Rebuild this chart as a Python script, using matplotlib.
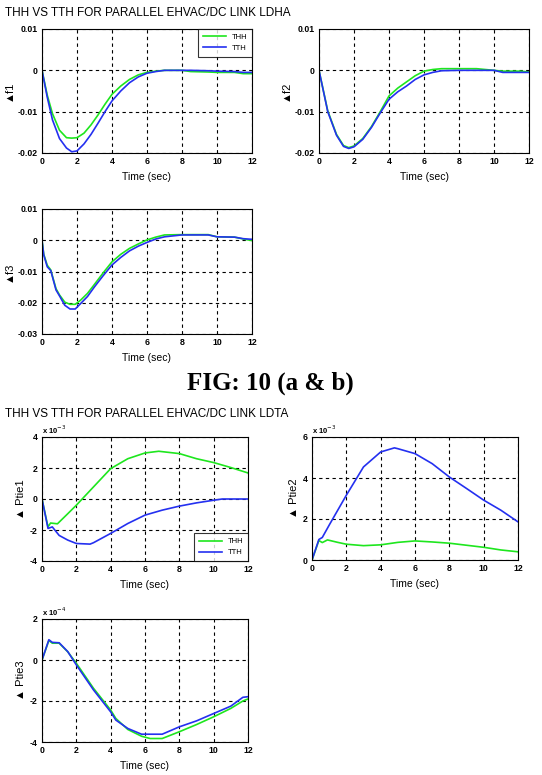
import numpy as np
import matplotlib
matplotlib.use("Agg")
import matplotlib.pyplot as plt

# Frequency deviations, THH vs TTH (LDHA case)
t_f1 = [0, 0.3, 0.6, 1.0, 1.4, 1.7, 2.0, 2.4, 2.8, 3.2, 3.6, 4.0, 4.5, 5.0, 5.5,
        6.0, 6.5, 7.0, 8.0, 8.5, 9.5, 10, 11, 11.5, 12]
thh_f1 = [0, -0.006, -0.0105, -0.0145, -0.0163, -0.0164, -0.0163, -0.0152, -0.0132,
          -0.0108, -0.0082, -0.0058, -0.0038, -0.0022, -0.0011, -0.0005, -0.0002, 0,
          0, -0.0003, -0.0004, -0.0005, -0.0005, -0.0008, -0.0008]
tth_f1 = [0, -0.0065, -0.012, -0.0165, -0.0188, -0.0197, -0.0195, -0.0178, -0.0155,
          -0.0128, -0.0100, -0.0074, -0.0050, -0.0030, -0.0016, -0.0007, -0.0003, 0,
          0, 0, -0.0001, -0.0002, -0.0003, -0.0005, -0.0005]

t_f2 = [0, 0.5, 1.0, 1.4, 1.7, 2.0, 2.5, 3.0, 3.5, 4.0, 4.5, 5.0, 5.5, 6.0, 6.5,
        7, 8, 9, 10, 10.5, 11.5, 12]
thh_f2 = [0, -0.0098, -0.0155, -0.0182, -0.0187, -0.0183, -0.0165, -0.0136, -0.0100,
          -0.0062, -0.0043, -0.0028, -0.0013, -0.0002, 0.0002, 0.0004, 0.0004, 0.0004,
          0, -0.0002, -0.0002, -0.0004]
tth_f2 = [0, -0.0100, -0.0157, -0.0184, -0.0189, -0.0185, -0.0167, -0.0138, -0.0103,
          -0.0070, -0.0052, -0.0038, -0.0022, -0.0011, -0.0005, -0.0001, 0, 0, 0,
          -0.0005, -0.0005, -0.0005]

t_f3 = [0, 0.1, 0.3, 0.5, 0.8, 1.0, 1.3, 1.6, 1.9, 2.2, 2.6, 3.0, 3.5, 4.0, 4.5,
        5.0, 5.5, 6.0, 6.5, 7.0, 8.0, 9.5, 10, 11, 11.5, 12]
thh_f3 = [0, -0.0045, -0.008, -0.0095, -0.0155, -0.0175, -0.0198, -0.0205, -0.0205,
          -0.0192, -0.0170, -0.0141, -0.0104, -0.0069, -0.0045, -0.0026, -0.0012,
          0.0001, 0.0010, 0.0017, 0.0018, 0.0018, 0.0011, 0.0010, 0.0004, -0.0001]
tth_f3 = [0, -0.0047, -0.0085, -0.0097, -0.0159, -0.0178, -0.0208, -0.022, -0.022,
          -0.0203, -0.0180, -0.0149, -0.0113, -0.0079, -0.0055, -0.0034, -0.0019,
          -0.0007, 0.0004, 0.0011, 0.0017, 0.0017, 0.0011, 0.0010, 0.0005, 0.0003]

# Tie-line power deviations (LDTA case), in units of the axis multiplier
t_p1 = [0, 0.35, 0.5, 0.9, 1.5, 2, 3, 4, 5, 6, 6.8, 8, 9, 10, 11, 12]
thh_p1 = [0, -1.8, -1.55, -1.6, -0.95, -0.4, 0.78, 1.96, 2.6, 2.97, 3.08, 2.93,
          2.6, 2.35, 2.03, 1.68]
t_p1b = [0, 0.35, 0.6, 1.0, 1.5, 2, 2.8, 3, 4, 5, 6, 7, 8, 9, 10, 10.5, 12]
tth_p1 = [0, -1.9, -1.8, -2.35, -2.65, -2.87, -2.91, -2.82, -2.22, -1.58, -1.04,
          -0.72, -0.46, -0.25, -0.08, 0, 0]

t_p2 = [0, 0.4, 0.6, 1, 2, 3, 4, 4.8, 5, 6, 7, 8, 9, 10, 11, 12]
tth_p2 = [0, 1.0, 1.1, 1.7, 3.16, 4.54, 5.27, 5.47, 5.43, 5.19, 4.70, 4.05, 3.49,
          2.92, 2.43, 1.86]
t_p2g = [0, 0.4, 0.6, 0.9, 1.5, 2, 3, 4, 5, 6, 7, 8, 9, 10, 11, 12]
thh_p2 = [0, 0.95, 0.85, 0.98, 0.86, 0.77, 0.70, 0.74, 0.86, 0.93, 0.88, 0.82,
          0.72, 0.62, 0.49, 0.40]

t_p3 = [0, 0.4, 0.6, 1.0, 1.5, 2, 3, 4, 4.3, 5, 5.8, 6.3, 7, 8, 9, 10, 11, 11.7, 12]
thh_p3 = [0, 0.95, 0.82, 0.82, 0.4, -0.16, -1.38, -2.44, -2.85, -3.39, -3.72,
          -3.83, -3.83, -3.5, -3.15, -2.77, -2.36, -2.0, -1.9]
tth_p3 = [0, 0.99, 0.86, 0.84, 0.41, -0.24, -1.46, -2.53, -2.93, -3.34, -3.62,
          -3.62, -3.62, -3.26, -2.97, -2.61, -2.25, -1.82, -1.79]

x_ticks = [0, 2, 4, 6, 8, 10, 12]
f12_ticks = [0.01, 0, -0.01, -0.02]
f12_labels = ["0.01", "0", "-0.01", "-0.02"]
f3_ticks = [0.01, 0, -0.01, -0.02, -0.03]
f3_labels = ["0.01", "0", "-0.01", "-0.02", "-0.03"]
p1_ticks = [4, 2, 0, -2, -4]
p2_ticks = [6, 4, 2, 0]
p3_ticks = [2, 0, -2, -4]

GREEN = "#1ee61e"
BLUE = "#2430f0"
W, H = 542, 775

fig = plt.figure(figsize=(W / 100, H / 100), dpi=100)
plt.rcParams["font.family"] = ["Liberation Sans", "DejaVu Sans"]


def panel(x0, y0, x1, y1):
    # pixel box (top-left origin) -> figure axes
    return fig.add_axes([x0 / W, 1 - y1 / H, (x1 - x0) / W, (y1 - y0) / H])


def style(ax, yticks, ylabels, ylim, ylabel):
    ax.set_xlim(0, 12)
    ax.set_ylim(*ylim)
    ax.set_xticks(x_ticks)
    ax.set_xticklabels([str(v) for v in x_ticks])
    ax.set_yticks(yticks)
    ax.set_yticklabels(ylabels)
    ax.tick_params(direction="in", length=2.5, width=0.7, labelsize=6.3, pad=3)
    for lab in ax.get_xticklabels() + ax.get_yticklabels():
        lab.set_fontweight("bold")
    ax.grid(True, color="k", linestyle=(0, (3, 3)), linewidth=0.8)
    for s in ax.spines.values():
        s.set_linewidth(0.8)
    ax.set_xlabel("Time (sec)", fontsize=7.5, labelpad=4)
    ax.set_ylabel(ylabel, fontsize=8, labelpad=3)


ax1 = panel(42, 29, 252, 153)
ax1.plot(t_f1, thh_f1, color=GREEN, lw=1.2, label="THH")
ax1.plot(t_f1, tth_f1, color=BLUE, lw=1.2, label="TTH")
style(ax1, f12_ticks, f12_labels, (-0.02, 0.01), "▲f1")
leg = ax1.legend(loc="upper right", fontsize=5.5, frameon=True, fancybox=False,
                 edgecolor="k", handlelength=3, borderaxespad=0, borderpad=0.6)
leg.get_frame().set_linewidth(0.8)

ax2 = panel(319, 29, 529, 153)
ax2.plot(t_f2, thh_f2, color=GREEN, lw=1.2)
ax2.plot(t_f2, tth_f2, color=BLUE, lw=1.2)
style(ax2, f12_ticks, f12_labels, (-0.02, 0.01), "▲f2")

ax3 = panel(42, 209, 252, 334)
ax3.plot(t_f3, thh_f3, color=GREEN, lw=1.2)
ax3.plot(t_f3, tth_f3, color=BLUE, lw=1.2)
style(ax3, f3_ticks, f3_labels, (-0.03, 0.01), "▲f3")

ax4 = panel(42, 437, 248, 561)
ax4.plot(t_p1, thh_p1, color=GREEN, lw=1.2, label="THH")
ax4.plot(t_p1b, tth_p1, color=BLUE, lw=1.2, label="TTH")
style(ax4, p1_ticks, [str(v) for v in p1_ticks], (-4, 4), "▲ Ptie1")
leg = ax4.legend(loc="lower right", fontsize=5.5, frameon=True, fancybox=False,
                 edgecolor="k", handlelength=3, borderaxespad=0, borderpad=0.6)
leg.get_frame().set_linewidth(0.8)

ax5 = panel(312, 437, 518, 560)
ax5.plot(t_p2g, thh_p2, color=GREEN, lw=1.2)
ax5.plot(t_p2, tth_p2, color=BLUE, lw=1.2)
style(ax5, p2_ticks, [str(v) for v in p2_ticks], (0, 6), "▲ Ptie2")

ax6 = panel(42, 619, 248, 742)
ax6.plot(t_p3, thh_p3, color=GREEN, lw=1.2)
ax6.plot(t_p3, tth_p3, color=BLUE, lw=1.2)
style(ax6, p3_ticks, [str(v) for v in p3_ticks], (-4, 2), "▲ Ptie3")

# axis multipliers
for ax, expo in ((ax4, "-3"), (ax5, "-3"), (ax6, "-4")):
    ax.text(0.0, 1.01, "x 10$^{%s}$" % expo, transform=ax.transAxes,
            fontsize=5.5, fontweight="bold", ha="left", va="bottom")

fig.text(5 / W, 1 - 13 / H, "THH VS TTH FOR PARALLEL EHVAC/DC LINK LDHA",
         fontsize=8.5, ha="left", va="center")
fig.text(5 / W, 1 - 414 / H, "THH VS TTH FOR PARALLEL EHVAC/DC LINK LDTA",
         fontsize=8.5, ha="left", va="center")
fig.text(270 / W, 1 - 383 / H, "FIG: 10 (a & b)", fontsize=18, fontweight="bold",
         family="Liberation Serif", ha="center", va="center")

fig.savefig("out.png", dpi=100)
